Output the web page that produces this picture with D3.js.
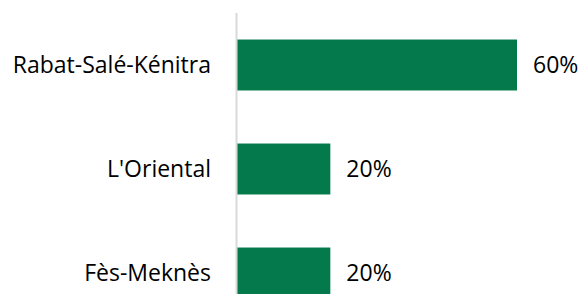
<!DOCTYPE html>
<html>
<head>
<meta charset="utf-8">
<script src="https://cdn.jsdelivr.net/npm/d3@7"></script>
<style>
  body { margin: 0; background: #fff; }
  svg text { font-family: "Open Sans", sans-serif; fill: #000; }
</style>
</head>
<body>
<div id="chart"></div>
<script>
const regions = ["Rabat-Salé-Kénitra", "L'Oriental", "Fès-Meknès"];
const shares = [60, 20, 20];

const width = 584;
const height = 294;
const x0 = 237;

const svg = d3.select("#chart")
    .append("svg")
    .attr("width", width)
    .attr("height", height);

const xScale = d3.scaleLinear().domain([0, 60]).range([x0, 517]);
const yScale = d3.scaleBand()
    .domain(regions)
    .range([13, 13 + 3 * 104])
    .paddingInner(0.51)
    .paddingOuter(0.255);

const data = regions.map((r, i) => ({ region: r, value: shares[i] }));

svg.selectAll("rect.bar")
    .data(data)
    .enter()
    .append("rect")
    .attr("class", "bar")
    .attr("x", xScale(0))
    .attr("y", d => yScale(d.region))
    .attr("width", d => xScale(d.value) - xScale(0))
    .attr("height", yScale.bandwidth())
    .attr("fill", "#047a4c");

// vertical axis line
svg.append("line")
    .attr("x1", x0 - 0.5)
    .attr("x2", x0 - 0.5)
    .attr("y1", 13)
    .attr("y2", height)
    .attr("stroke", "#d9d9d9")
    .attr("stroke-width", 2);

svg.selectAll("text.cat")
    .data(data)
    .enter()
    .append("text")
    .attr("class", "cat")
    .attr("x", 211)
    .attr("y", d => yScale(d.region) + yScale.bandwidth() / 2)
    .attr("dy", "0.36em")
    .attr("text-anchor", "end")
    .style("font-size", "23px")
    .text(d => d.region);

svg.selectAll("text.val")
    .data(data)
    .enter()
    .append("text")
    .attr("class", "val")
    .attr("x", d => xScale(d.value) + 16)
    .attr("y", d => yScale(d.region) + yScale.bandwidth() / 2)
    .attr("dy", "0.36em")
    .style("font-size", "23px")
    .text(d => d.value + "%");
</script>
</body>
</html>
